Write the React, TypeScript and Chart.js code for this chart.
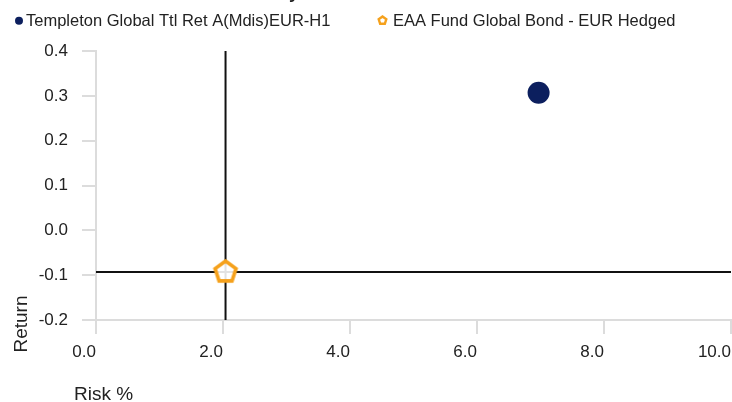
import React, { useEffect, useRef } from 'react';
import { Chart, registerables } from 'chart.js';

Chart.register(...registerables);

const seriesNames = ['Templeton Global Ttl Ret A(Mdis)EUR-H1', 'EAA Fund Global Bond - EUR Hedged'];
const riskValues = [6.97, 2.04];
const returnValues = [0.307, -0.093];
const seriesColors = ['#0c1f5e', '#f5a11c'];

const xMin = 0;
const xMax = 10;
const xStep = 2;
const yMin = -0.2;
const yMax = 0.4;
const yStep = 0.1;

const titleText = 'Risk/Return Analysis';
const xAxisTitle = 'Risk %';
const yAxisTitle = 'Return';

const FONT = '"Liberation Sans", Arial, Helvetica, sans-serif';

function makePentagon(R: number, lw: number, stroke: string, fill: string): HTMLCanvasElement {
  const size = Math.ceil(2 * R + 2 * lw + 2);
  const c = document.createElement('canvas');
  c.width = size;
  c.height = size;
  const ctx = c.getContext('2d')!;
  const cx = size / 2;
  const cy = size / 2;
  ctx.beginPath();
  for (let i = 0; i < 5; i++) {
    const a = -Math.PI / 2 + (i * 2 * Math.PI) / 5;
    const px = cx + R * Math.cos(a);
    const py = cy + R * Math.sin(a);
    if (i === 0) ctx.moveTo(px, py);
    else ctx.lineTo(px, py);
  }
  ctx.closePath();
  ctx.fillStyle = fill;
  ctx.fill();
  ctx.lineWidth = lw;
  ctx.strokeStyle = stroke;
  ctx.lineJoin = 'miter';
  ctx.stroke();
  return c;
}

export default function App() {
  const ref = useRef<HTMLCanvasElement | null>(null);

  useEffect(() => {
    if (!ref.current) return;
    const bigPent = makePentagon(11, 3.6, seriesColors[1], 'rgba(255,255,255,0.88)');
    const smallPent = makePentagon(4, 2.4, seriesColors[1], '#ffffff');

    const overlay = {
      id: 'overlay',
      afterDraw(chart: any) {
        const ctx = chart.ctx as CanvasRenderingContext2D;
        ctx.save();
        // clipped title (only descenders visible)
        ctx.font = `bold 18px ${FONT}`;
        ctx.fillStyle = '#222';
        ctx.textBaseline = 'alphabetic';
        ctx.textAlign = 'left';
        const idx = titleText.indexOf('y');
        const pre = ctx.measureText(titleText.slice(0, idx)).width;
        ctx.fillText(titleText, 289 - pre, -2);

        // legend
        ctx.font = `16.5px ${FONT}`;
        ctx.fillStyle = seriesColors[0];
        ctx.beginPath();
        ctx.arc(19, 20.7, 4, 0, Math.PI * 2);
        ctx.fill();
        ctx.drawImage(smallPent, 382.5 - smallPent.width / 2, 20.5 - smallPent.height / 2);
        ctx.fillStyle = '#222';
        ctx.fillText(seriesNames[0], 26, 26);
        ctx.fillText(seriesNames[1], 393, 26);

        // axis titles
        ctx.font = `19px ${FONT}`;
        ctx.fillText(xAxisTitle, 74, 400);
        ctx.translate(26.7, 324);
        ctx.rotate(-Math.PI / 2);
        ctx.textAlign = 'center';
        ctx.fillText(yAxisTitle, 0, 0);
        ctx.restore();
      },
    };

    const bx = riskValues[1];
    const by = returnValues[1];

    const chart = new Chart(ref.current, {
      type: 'scatter',
      data: {
        datasets: [
          {
            label: seriesNames[0],
            data: [{ x: riskValues[0], y: returnValues[0] }],
            backgroundColor: seriesColors[0],
            borderColor: seriesColors[0],
            borderWidth: 0,
            pointRadius: 11,
            pointHoverRadius: 11,
            pointStyle: 'circle',
            order: 0,
          },
          {
            label: seriesNames[1],
            data: [{ x: bx, y: by }],
            backgroundColor: '#fff',
            borderColor: seriesColors[1],
            pointRadius: 11,
            pointStyle: bigPent as any,
            order: 0,
          },
          {
            type: 'line',
            label: 'vline',
            data: [
              { x: bx, y: yMin },
              { x: bx, y: yMax },
            ],
            borderColor: '#111',
            borderWidth: 2,
            pointRadius: 0,
            showLine: true,
            order: 5,
          } as any,
          {
            type: 'line',
            label: 'hline',
            data: [
              { x: xMin, y: by },
              { x: xMax, y: by },
            ],
            borderColor: '#111',
            borderWidth: 2,
            pointRadius: 0,
            showLine: true,
            order: 5,
          } as any,
        ],
      },
      options: {
        animation: false,
        responsive: true,
        maintainAspectRatio: false,
        layout: { padding: { top: 51, right: 0, bottom: 0, left: 0 } },
        plugins: {
          legend: { display: false },
          title: { display: false },
          tooltip: { enabled: false },
        },
        scales: {
          x: {
            type: 'linear',
            min: xMin,
            max: xMax,
            afterFit: (s: any) => {
              s.height = 82;
            },
            ticks: {
              stepSize: xStep,
              align: 'end',
              padding: 8,
              color: '#222',
              font: { family: FONT, size: 17 },
              callback: (v: any) => Number(v).toFixed(1),
            },
            grid: {
              drawOnChartArea: false,
              drawTicks: true,
              tickLength: 14,
              color: '#dcdcdc',
              lineWidth: 2,
            },
            border: { display: true, color: '#dcdcdc', width: 2 },
          },
          y: {
            type: 'linear',
            min: yMin,
            max: yMax,
            afterFit: (s: any) => {
              s.width = 96;
            },
            ticks: {
              stepSize: yStep,
              padding: 14,
              color: '#222',
              font: { family: FONT, size: 17 },
              callback: (v: any) => Number(v).toFixed(1),
            },
            grid: {
              drawOnChartArea: false,
              drawTicks: true,
              tickLength: 14,
              color: '#dcdcdc',
              lineWidth: 2,
            },
            border: { display: true, color: '#dcdcdc', width: 2 },
          },
        },
      },
      plugins: [overlay],
    });
    return () => chart.destroy();
  }, []);

  return (
    <div style={{ position: 'fixed', left: 0, top: 0, width: 732, height: 402, overflow: 'hidden', background: '#fff' }}>
      <div style={{ position: 'absolute', left: 0, top: 0, width: 743, height: 402 }}>
        <canvas ref={ref} />
      </div>
    </div>
  );
}
